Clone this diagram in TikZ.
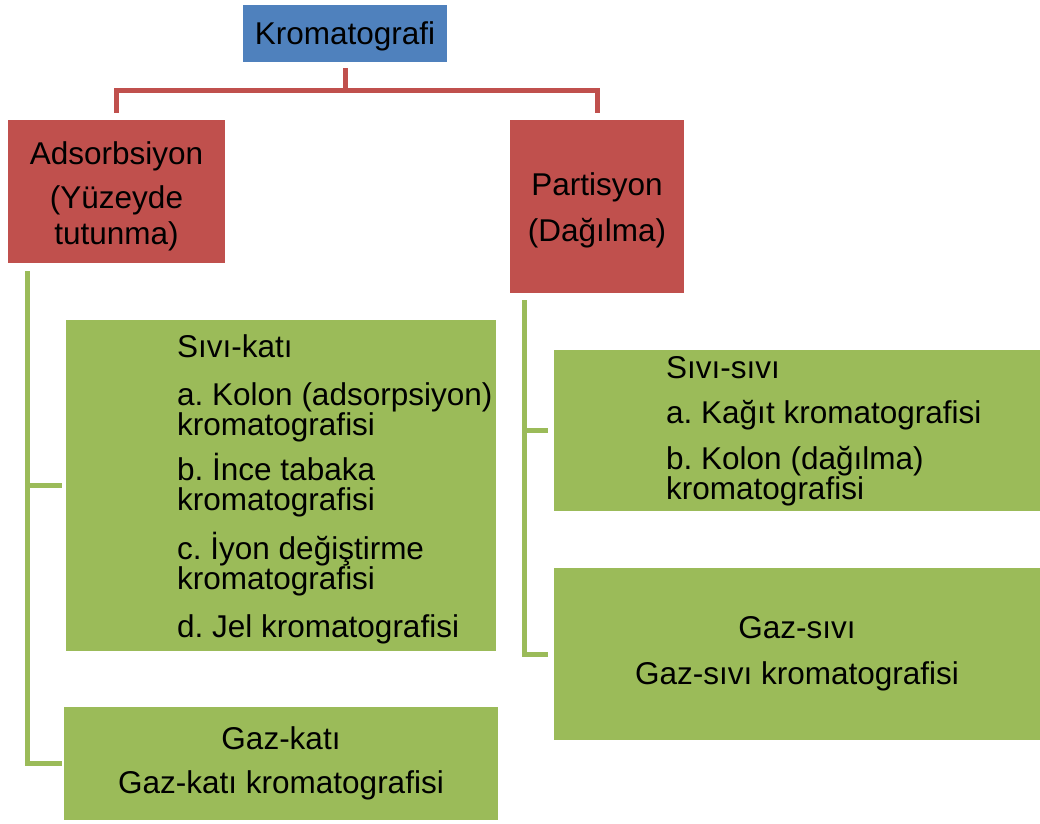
\documentclass[tikz,border=0pt]{standalone}
\usepackage{fontspec}
\setmainfont{Liberation Sans}
\frenchspacing
\definecolor{kromblue}{HTML}{4F81BD}
\definecolor{kromred}{HTML}{C0504D}
\definecolor{kromgreen}{HTML}{9BBB59}
\begin{document}
\begin{tikzpicture}[x=1pt, y=-1pt, font=\fontsize{31.5}{30}\selectfont,
    bluebox/.style={fill=kromblue, inner sep=0pt, text depth=0pt},
    redbox/.style={fill=kromred, inner sep=0pt, align=center},
    greenbox/.style={fill=kromgreen, inner sep=0pt, align=center},
    listtext/.style={anchor=north west, inner sep=0pt, align=left},
    redlink/.style={draw=kromred, line width=5pt},
    greenlink/.style={draw=kromgreen, line width=5pt}]
    \useasboundingbox (0,0) rectangle (1040,823);

    % top and the two kinds
    \node[bluebox, minimum width=204pt, minimum height=57pt] (krom) at (345,33.5) {Kromatografi};
    \node[redbox, minimum width=217pt, minimum height=143pt] (ads) at (116.5,191.5)
        {\rule{0pt}{32pt}Adsorbsiyon\\[14pt](Yüzeyde\\[6pt]tutunma)};
    \node[redbox, minimum width=174pt, minimum height=173pt] (par) at (597,206.5)
        {\rule{0pt}{30pt}Partisyon\\[16pt](Dağılma)};

    % green boxes
    \node[greenbox, minimum width=430pt, minimum height=331pt] (sk) at (281,485.5) {};
    \node[greenbox, minimum width=434pt, minimum height=113pt] (gk) at (281,763.5)
        {Gaz-katı\\[14pt]Gaz-katı kromatografisi};
    \node[greenbox, minimum width=486pt, minimum height=161pt] (ss) at (797,430.5) {};
    \node[greenbox, minimum width=486pt, minimum height=172pt] (gs) at (797,654)
        {Gaz-sıvı\\[16pt]Gaz-sıvı kromatografisi};

    \node[listtext] (sktext) at (177,334) {Sıvı-katı\\[18pt]a. Kolon (adsorpsiyon)\\kromatografisi\\[11pt]b. İnce tabaka\\kromatografisi\\[14pt]c. İyon değiştirme\\kromatografisi\\[18pt]d. Jel kromatografisi};
    \node[listtext] (sstext) at (666,356) {Sıvı-sıvı\\[15pt]a. Kağıt kromatografisi\\[16pt]b. Kolon (dağılma)\\kromatografisi};

    % red connectors
    \draw[redlink] ([yshift=-6pt]krom.south) -- ++(0,22) -| ([yshift=7pt]ads.north);
    \draw[redlink] ([yshift=-6pt]krom.south) -- ++(0,22) -| ([yshift=7pt]par.north);

    % green connectors
    \coordinate (lstem) at ([xshift=-89.5pt, yshift=-8pt]ads.south);
    \coordinate (rstem) at ([xshift=-73pt, yshift=-7pt]par.south);
    \draw[greenlink] (lstem) |- ([xshift=-4pt]sk.west);
    \draw[greenlink] (lstem) |- ([xshift=-2pt]gk.west);
    \draw[greenlink] (rstem) |- ([xshift=-6pt]ss.west);
    \draw[greenlink] (rstem) |- ([xshift=-6pt]gs.west);
\end{tikzpicture}
\end{document}
